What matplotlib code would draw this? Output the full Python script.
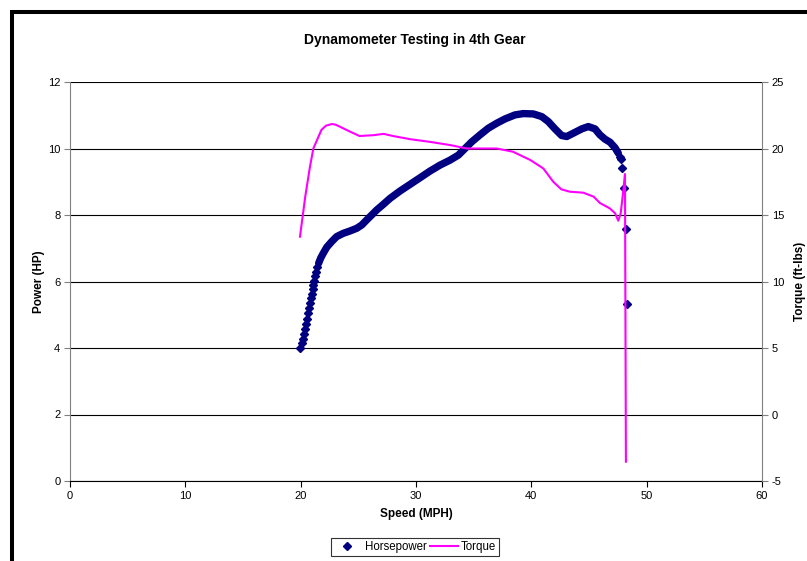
import numpy as np
import matplotlib.pyplot as plt
from matplotlib.patches import Rectangle
from matplotlib.lines import Line2D

plt.rcParams['font.family'] = ['Liberation Sans', 'DejaVu Sans']
plt.rcParams['axes.unicode_minus'] = False

# horsepower readings (speed in MPH, power in HP)
hp_speed = [19.94, 20.09, 20.17, 20.29, 20.38, 20.46, 20.58, 20.67, 20.75, 20.84,
            20.90, 20.95, 21.04, 21.10, 21.16, 21.24, 21.33, 21.44, 21.56, 21.73,
            21.96, 22.26, 22.69, 23.12, 23.70, 24.28, 24.86, 25.30, 25.72, 26.16,
            26.59, 27.10, 27.75, 28.61, 29.48, 30.35, 31.21, 32.08, 32.95, 33.67,
            34.25, 34.83, 35.55, 36.27, 37.00, 37.72, 38.58, 39.30, 40.17, 40.90,
            41.47, 42.05, 42.63, 43.07, 43.64, 44.37, 44.94, 45.52, 45.95, 46.39,
            46.82, 47.26, 47.54, 47.70, 47.79, 47.85, 48.05, 48.20, 48.30]
hp_power = [3.99, 4.14, 4.26, 4.41, 4.56, 4.71, 4.86, 5.04, 5.21, 5.34,
            5.49, 5.62, 5.76, 5.89, 6.02, 6.17, 6.29, 6.43, 6.55, 6.70,
            6.85, 7.03, 7.20, 7.35, 7.45, 7.52, 7.60, 7.70, 7.85, 8.00,
            8.15, 8.30, 8.50, 8.72, 8.92, 9.12, 9.32, 9.50, 9.65, 9.80,
            10.00, 10.20, 10.41, 10.61, 10.76, 10.89, 11.01, 11.05, 11.04, 10.96,
            10.81, 10.59, 10.39, 10.36, 10.46, 10.59, 10.66, 10.59, 10.41, 10.28,
            10.19, 10.02, 9.86, 9.75, 9.67, 9.40, 8.80, 7.58, 5.32]

# torque readings (speed in MPH, torque in ft-lbs)
tq_speed = [19.94, 20.4, 20.8, 21.1, 21.4, 21.8, 22.2, 22.7, 23.0, 23.4, 24.3, 25.1,
            26.3, 27.2, 28.0, 29.5, 31.2, 32.95, 34.4, 37.0, 38.4, 39.9, 41.04,
            41.9, 42.6, 43.35, 44.5, 45.4, 45.95, 46.8, 47.26, 47.54, 47.75,
            47.98, 48.12, 48.2]
tq_value = [13.37, 16.4, 18.6, 20.0, 20.6, 21.4, 21.72, 21.84, 21.8, 21.64, 21.26, 20.94,
            21.0, 21.1, 20.94, 20.7, 20.5, 20.26, 20.0, 20.0, 19.76, 19.14, 18.5,
            17.5, 16.93, 16.75, 16.68, 16.38, 15.9, 15.5, 15.13, 14.57, 15.13,
            16.88, 18.08, -3.55]

navy = '#000080'
magenta = '#FF00FF'
gray = '#808080'

fig = plt.figure(figsize=(8.07, 5.61), dpi=100)
ax = fig.add_axes([70/807, 80/561, 692/807, 399/561])

hs = np.array(hp_speed)
hpw = np.array(hp_power)
dense = (hs >= 21.5) & (hs <= 47.6)
ax.plot(hs[dense], hpw[dense], color=navy, lw=5.3, solid_capstyle='round',
        solid_joinstyle='round', zorder=3)
ax.plot(hs[~dense], hpw[~dense], ls='none', marker='D', ms=3.9, color=navy, zorder=4)

ax.set_xlim(0, 60)
ax.set_ylim(0, 12)
ax.set_xticks(range(0, 61, 10))
ax.set_yticks(range(0, 13, 2))
ax.yaxis.grid(True, color='black', lw=0.8)
ax.set_axisbelow(True)
ax.spines['top'].set_visible(False)
ax.spines['right'].set_visible(False)
ax.spines['left'].set_color(gray)
ax.spines['bottom'].set_color('black')
ax.tick_params(axis='both', labelsize=8, length=4, width=0.8, direction='out', pad=3)
ax.tick_params(axis='y', colors=gray, labelcolor='black')
ax.set_xlabel('Speed (MPH)', fontsize=8.5, fontweight='bold', labelpad=5)
ax.set_ylabel('Power (HP)', fontsize=8.5, fontweight='bold', labelpad=2)

ax2 = ax.twinx()
ax2.plot(tq_speed, tq_value, color=magenta, lw=1.5, zorder=5)
ax2.set_ylim(-5, 25)
ax2.set_yticks(range(-5, 26, 5))
for s in ['top', 'left', 'bottom']:
    ax2.spines[s].set_visible(False)
ax2.spines['right'].set_color(gray)
ax2.tick_params(axis='y', labelsize=8, length=4, width=0.8, colors=gray,
                labelcolor='black', pad=3)
ax2.set_ylabel('Torque (ft-lbs)', fontsize=8.5, fontweight='bold', rotation=90, labelpad=7)

fig.suptitle('Dynamometer Testing in 4th Gear', fontsize=10, fontweight='bold',
             x=415/807, y=1-40/561, va='center')

handles = [Line2D([], [], ls='none', marker='D', ms=3.9, color=navy),
           Line2D([], [], color=magenta, lw=1.5)]
leg = fig.legend(handles, ['Horsepower', 'Torque'], loc='center', ncol=2,
                 bbox_to_anchor=(415/807, 1-547/561), fontsize=8.3, frameon=True,
                 fancybox=False, edgecolor='black', handlelength=2.4,
                 handletextpad=0.3, columnspacing=0.3, borderpad=0.25)
leg.get_frame().set_linewidth(0.8)

fig.patches.append(Rectangle((12/807, -0.1), 1.0, 1.1 - 12/561, transform=fig.transFigure,
                             fill=False, edgecolor='black', lw=2.9))

fig.savefig('out.png', dpi=100)
